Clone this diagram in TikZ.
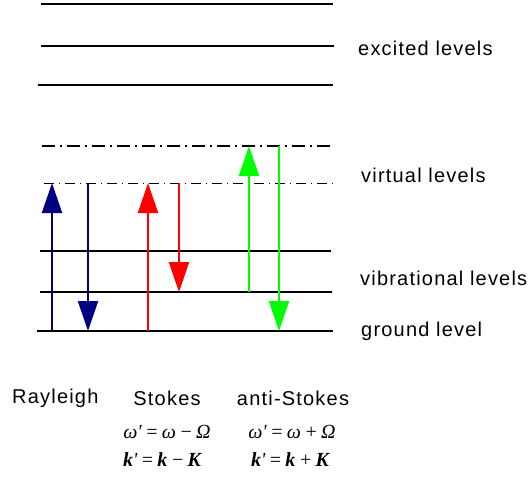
\documentclass[tikz,border=0pt]{standalone}
\usepackage{fontspec}
\setmainfont{Liberation Sans}[LetterSpace=6]
\newfontfamily\formfont{Liberation Serif}
\usetikzlibrary{arrows.meta}
\definecolor{raynavy}{RGB}{0,0,128}
\definecolor{stkred}{RGB}{255,0,0}
\definecolor{astgreen}{RGB}{0,255,0}
\tikzset{
  lvl/.style={line width=2.2pt},
  virtlvl/.style={line width=1pt, dash pattern=on 10pt off 5pt on 1pt off 5pt},
  virtlvlhi/.style={line width=2.5pt, dash pattern=on 13pt off 5pt on 2pt off 5pt},
  trans/.style={line width=2pt, -{Triangle[width=20pt,length=30pt]}},
  lbl/.style={anchor=base west, inner sep=0pt, font=\fontsize{20}{23}\selectfont},
  lblc/.style={anchor=base, inner sep=0pt, font=\fontsize{20}{23}\selectfont},
  frm/.style={anchor=base, inner sep=0pt, font=\formfont\fontsize{20}{23}\selectfont\itshape}
}

\begin{document}
\begin{tikzpicture}[x=1pt,y=-1pt]
  \useasboundingbox (0,0) rectangle (532,482);
  % excited levels
  \draw[lvl] (41,4) -- (333,4);
  \draw[lvl] (41,46) -- (334,46);
  \draw[lvl] (38,85) -- (333,85);
  % virtual levels
  \draw[virtlvlhi] (42,146) coordinate (virtA) -- (333,146);
  \draw[virtlvl] (44,183) coordinate (virtB) -- (333,183);
  % vibrational levels and ground
  \draw[lvl] (40,251) -- (331,251);
  \draw[lvl] (40,292) coordinate (vibA) -- (332,292);
  \draw[lvl] (37,331) coordinate (gnd) -- (333,331);

  % columns of the transitions
  \coordinate (rayUp) at (52,0);
  \coordinate (rayDn) at (88,0);
  \coordinate (stkUp) at (148,0);
  \coordinate (stkDn) at (179,0);
  \coordinate (astUp) at (249,0);
  \coordinate (astDn) at (279,0);

  % Rayleigh
  \draw[trans,raynavy] (rayUp |- gnd) -- (rayUp |- virtB);
  \draw[trans,raynavy] (rayDn |- virtB) -- (rayDn |- gnd);
  % Stokes
  \draw[trans,stkred] (stkUp |- gnd) -- (stkUp |- virtB);
  \draw[trans,stkred] (stkDn |- virtB) -- (stkDn |- vibA);
  % anti-Stokes
  \draw[trans,astgreen] (astUp |- vibA) -- (astUp |- virtA);
  \draw[trans,astgreen] (astDn |- virtA) -- (astDn |- gnd);

  % level names
  \node[lbl] (excLbl) at (358,55) {excited levels};
  \node[lbl] (virtLbl) at (361,182) {virtual levels};
  \node[lbl] (vibLbl) at (360,285) {vibrational levels};
  \node[lbl] (gndLbl) at (361,336) {ground level};

  % process names and shifts
  \node[lbl] (rayLbl) at (12,403) {Rayleigh};
  \node[lblc] (stkLbl) at (167,405) {Stokes};
  \node[lblc] (astLbl) at (293,405) {anti-Stokes};
  \node[frm] (stkW) at (167,438) {ω'\,=\,ω\,−\,Ω};
  \node[frm] (astW) at (292,438) {ω'\,=\,ω\,+\,Ω};
  \node[frm] (stkK) at (162,466) {\textbf{k}'\,=\,\textbf{k}\,−\,\textbf{K}};
  \node[frm] (astK) at (290,466) {\textbf{k}'\,=\,\textbf{k}\,+\,\textbf{K}};
\end{tikzpicture}
\end{document}
